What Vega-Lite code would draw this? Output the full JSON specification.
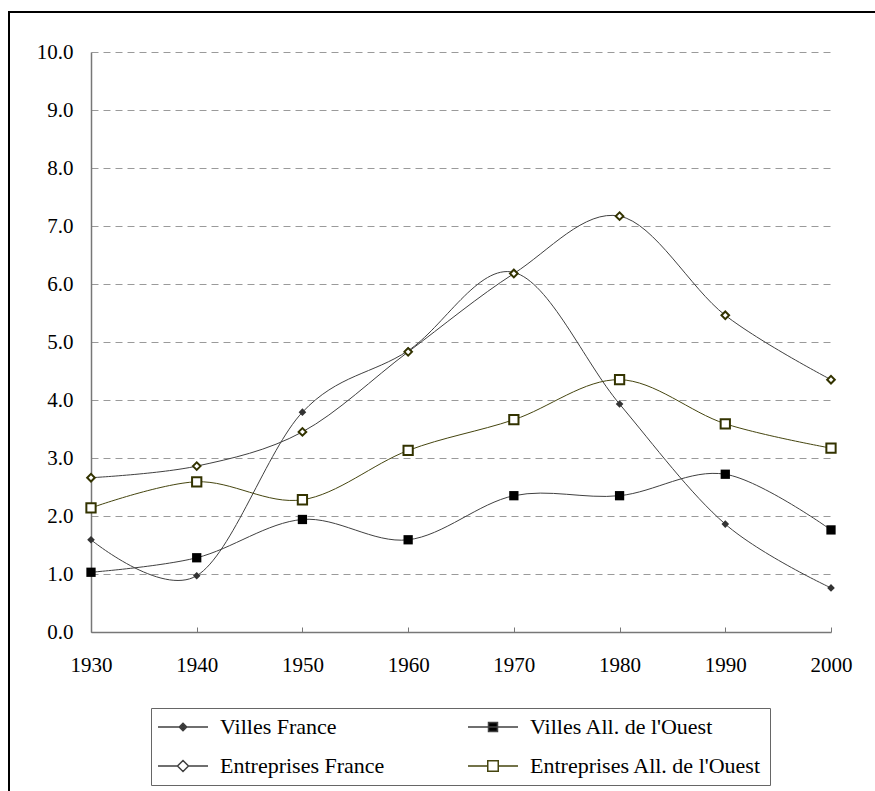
{
  "$schema": "https://vega.github.io/schema/vega-lite/v6.json",
  "width": 870,
  "height": 790,
  "autosize": "none",
  "padding": {"left": 9, "top": 12, "right": -4, "bottom": -11},
  "background": "white",
  "config": {
    "view": {"stroke": "#000000", "strokeWidth": 2},
    "font": "Liberation Serif, Times New Roman, serif"
  },
  "data": {
    "values": [
      {"series": "Villes France", "year": 1930, "value": 1.59},
      {"series": "Villes France", "year": 1940, "value": 0.97},
      {"series": "Villes France", "year": 1950, "value": 3.79},
      {"series": "Villes France", "year": 1960, "value": 4.85},
      {"series": "Villes France", "year": 1970, "value": 6.2},
      {"series": "Villes France", "year": 1980, "value": 3.93},
      {"series": "Villes France", "year": 1990, "value": 1.86},
      {"series": "Villes France", "year": 2000, "value": 0.76},
      {"series": "Villes All. de l'Ouest", "year": 1930, "value": 1.03},
      {"series": "Villes All. de l'Ouest", "year": 1940, "value": 1.28},
      {"series": "Villes All. de l'Ouest", "year": 1950, "value": 1.94},
      {"series": "Villes All. de l'Ouest", "year": 1960, "value": 1.59},
      {"series": "Villes All. de l'Ouest", "year": 1970, "value": 2.35},
      {"series": "Villes All. de l'Ouest", "year": 1980, "value": 2.35},
      {"series": "Villes All. de l'Ouest", "year": 1990, "value": 2.72},
      {"series": "Villes All. de l'Ouest", "year": 2000, "value": 1.76},
      {"series": "Entreprises France", "year": 1930, "value": 2.66},
      {"series": "Entreprises France", "year": 1940, "value": 2.86},
      {"series": "Entreprises France", "year": 1950, "value": 3.45},
      {"series": "Entreprises France", "year": 1960, "value": 4.83},
      {"series": "Entreprises France", "year": 1970, "value": 6.18},
      {"series": "Entreprises France", "year": 1980, "value": 7.17},
      {"series": "Entreprises France", "year": 1990, "value": 5.46},
      {"series": "Entreprises France", "year": 2000, "value": 4.35},
      {"series": "Entreprises All. de l'Ouest", "year": 1930, "value": 2.14},
      {"series": "Entreprises All. de l'Ouest", "year": 1940, "value": 2.59},
      {"series": "Entreprises All. de l'Ouest", "year": 1950, "value": 2.28},
      {"series": "Entreprises All. de l'Ouest", "year": 1960, "value": 3.13},
      {"series": "Entreprises All. de l'Ouest", "year": 1970, "value": 3.66},
      {"series": "Entreprises All. de l'Ouest", "year": 1980, "value": 4.35},
      {"series": "Entreprises All. de l'Ouest", "year": 1990, "value": 3.59},
      {"series": "Entreprises All. de l'Ouest", "year": 2000, "value": 3.17}
    ]
  },
  "encoding": {
    "x": {
      "field": "year", "type": "quantitative",
      "scale": {"domain": [1930, 2000], "range": [82, 822], "nice": false, "zero": false},
      "axis": {
        "values": [1930, 1940, 1950, 1960, 1970, 1980, 1990, 2000],
        "format": "d", "title": null, "offset": -170, "grid": false,
        "domainColor": "#777777", "domainWidth": 1.5,
        "tickColor": "#777777", "tickSize": -5, "tickWidth": 1,
        "labelFont": "Liberation Serif, Times New Roman, serif", "labelFontSize": 21, "labelColor": "#000000",
        "labelPadding": 27, "labelFlush": false
      }
    },
    "y": {
      "field": "value", "type": "quantitative",
      "scale": {"domain": [0, 10], "range": [620, 40], "nice": false, "zero": false},
      "axis": {
        "values": [0, 1, 2, 3, 4, 5, 6, 7, 8, 9, 10],
        "format": ".1f", "title": null, "offset": -82,
        "grid": true, "gridColor": "#9a9a9a", "gridDash": [7, 5], "gridWidth": 1,
        "ticks": false,
        "domainColor": "#777777", "domainWidth": 1.5,
        "labelFont": "Liberation Serif, Times New Roman, serif", "labelFontSize": 21, "labelColor": "#000000",
        "labelPadding": 18
      }
    }
  },
  "layer": [
    {
      "mark": {"type": "line", "interpolate": "cardinal", "strokeWidth": 1},
      "encoding": {
        "color": {
          "field": "series", "type": "nominal",
          "scale": {
            "domain": ["Villes France", "Villes All. de l'Ouest", "Entreprises France", "Entreprises All. de l'Ouest"],
            "range": ["#404040", "#404040", "#404040", "#45450f"]
          },
          "legend": {
            "orient": "none", "legendX": 142, "legendY": 696,
            "title": null, "columns": 2, "direction": "horizontal",
            "strokeColor": "#666666", "fillColor": "#ffffff", "padding": 8,
            "labelFont": "Liberation Serif, Times New Roman, serif", "labelFontSize": 22, "labelColor": "#000000", "labelLimit": 400,
            "symbolSize": 100, "symbolStrokeWidth": 1.5, "symbolOffset": 13, "labelOffset": 26,
            "columnPadding": 80, "rowPadding": 17,
            "encode": {
              "symbols": {
                "update": {
                  "shape": {"signal": "datum.value === 'Villes France' ? 'M-5,0H5M0,-0.75L0.75,0L0,0.75L-0.75,0Z' : datum.value === 'Entreprises France' ? 'M-5,0H-1.1M1.1,0H5M0,-1.1L1.1,0L0,1.1L-1.1,0Z' : substring(datum.value, 0, 6) === 'Villes' ? 'M-5,0H5M-0.9,-0.9H0.9V0.9H-0.9Z' : 'M-5,0H-1.05M1.05,0H5M-1.05,-1.05H1.05V1.05H-1.05Z'"},
                  "fill": {"signal": "substring(datum.value, 0, 6) === 'Villes' ? (datum.value === 'Villes France' ? '#333333' : '#000000') : '#ffffff'"},
                  "stroke": {"signal": "substring(datum.value, 0, 6) === 'Villes' ? '#6e6e6e' : '#333300'"},
                  "size": {"value": 100},
                  "strokeWidth": {"value": 1.5},
                  "opacity": {"value": 1}
                }
              }
            }
          }
        }
      }
    },
    {
      "transform": [{"filter": "substring(datum.series, 0, 6) === 'Villes'"}],
      "mark": {"type": "point", "filled": true, "opacity": 1, "strokeWidth": 0},
      "encoding": {
        "shape": {
          "field": "series", "type": "nominal",
          "scale": {"domain": ["Villes France", "Villes All. de l'Ouest"], "range": ["diamond", "square"]},
          "legend": null
        },
        "fill": {
          "field": "series", "type": "nominal",
          "scale": {"domain": ["Villes France", "Villes All. de l'Ouest"], "range": ["#333333", "#000000"]},
          "legend": null
        },
        "size": {
          "field": "series", "type": "nominal",
          "scale": {"type": "ordinal", "domain": ["Villes France", "Villes All. de l'Ouest"], "range": [58, 86]},
          "legend": null
        }
      }
    },
    {
      "transform": [{"filter": "substring(datum.series, 0, 6) !== 'Villes'"}],
      "mark": {"type": "point", "filled": true, "opacity": 1, "fill": "#ffffff", "stroke": "#333300", "strokeWidth": 2},
      "encoding": {
        "shape": {
          "field": "series", "type": "nominal",
          "scale": {"domain": ["Entreprises France", "Entreprises All. de l'Ouest"], "range": ["diamond", "square"]},
          "legend": null
        },
        "size": {
          "field": "series", "type": "nominal",
          "scale": {"type": "ordinal", "domain": ["Entreprises France", "Entreprises All. de l'Ouest"], "range": [125, 108]},
          "legend": null
        }
      }
    }
  ]
}
